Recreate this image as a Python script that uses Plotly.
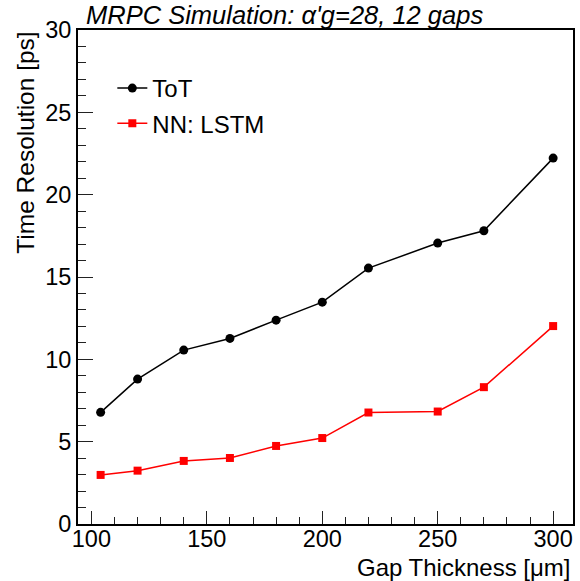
import plotly.graph_objects as go

gap_thickness = [104, 120, 140, 160, 180, 200, 220, 250, 270, 300]
tot_resolution = [6.78, 8.80, 10.56, 11.27, 12.38, 13.47, 15.54, 17.06, 17.81, 22.22]
lstm_resolution = [2.98, 3.24, 3.83, 4.01, 4.74, 5.22, 6.77, 6.83, 8.31, 12.02]

series_names = ["ToT", "NN: LSTM"]
x_tick_vals = [100, 150, 200, 250, 300]
y_tick_vals = [0, 5, 10, 15, 20, 25, 30]

W, H = 580, 581
L, R, T, B = 77.5, 5, 30, 57
ph = H - T - B
pw = W - L - R

FONT = "Liberation Sans, Arial, Helvetica, sans-serif"

fig = go.Figure()
fig.add_trace(go.Scatter(
    x=gap_thickness, y=tot_resolution, name=series_names[0], mode="lines+markers",
    line=dict(color="black", width=1.5),
    marker=dict(symbol="circle", size=9, color="black"),
    legendgroup="a"))
fig.add_trace(go.Scatter(
    x=gap_thickness, y=lstm_resolution, name=series_names[1], mode="lines+markers",
    line=dict(color="#ff0000", width=1.5),
    marker=dict(symbol="square", size=8, color="#ff0000"),
    legendgroup="b"))

axis_common = dict(
    showgrid=False, zeroline=False, showline=True, linecolor="black", linewidth=2,
    mirror=True, ticks="inside", tickcolor="#222222", tickwidth=1,
    tickfont=dict(family=FONT, size=23.5, color="black"),
)

fig.update_xaxes(
    range=[94.2, 308.6], tickvals=x_tick_vals, ticklen=13, ticklabelstandoff=-7,
    minor=dict(dtick=10, tick0=100, ticks="inside", ticklen=7, tickcolor="#222222", tickwidth=1),
    **axis_common)
fig.update_yaxes(
    range=[0, 30], tickvals=y_tick_vals, ticklen=15,
    minor=dict(dtick=1, tick0=0, ticks="inside", ticklen=8, tickcolor="#222222", tickwidth=1),
    **axis_common)

fig.add_annotation(
    text="<i>MRPC Simulation: α'g=28, 12 gaps</i>", xref="paper", yref="paper",
    x=0, y=1 + (T - 14.5) / ph, xanchor="left", yanchor="middle", showarrow=False,
    font=dict(family=FONT, size=25.5, color="black"), xshift=6)

fig.add_annotation(
    text="Gap Thickness [μm]", xref="paper", yref="paper",
    x=1, y=-(567 - (H - B)) / ph, xanchor="right", yanchor="middle", showarrow=False,
    font=dict(family=FONT, size=24, color="black"), xshift=-1)
fig.add_annotation(
    text="Time Resolution [ps]", xref="paper", yref="paper", textangle=-90,
    x=-(L - 24) / pw, y=1, xanchor="center", yanchor="top", showarrow=False,
    font=dict(family=FONT, size=24.5, color="black"))

fig.update_layout(
    width=W, height=H, margin=dict(l=L, r=R, t=T, b=B),
    paper_bgcolor="white", plot_bgcolor="white",
    font=dict(family=FONT, color="black"),
    showlegend=True,
    legend=dict(
        x=(112 - L) / pw, y=1 - (66 - T) / ph, xanchor="left", yanchor="top",
        bgcolor="rgba(0,0,0,0)", font=dict(family=FONT, size=24, color="black"),
        itemwidth=30, tracegroupgap=1),
)

fig.write_html("out.html")
